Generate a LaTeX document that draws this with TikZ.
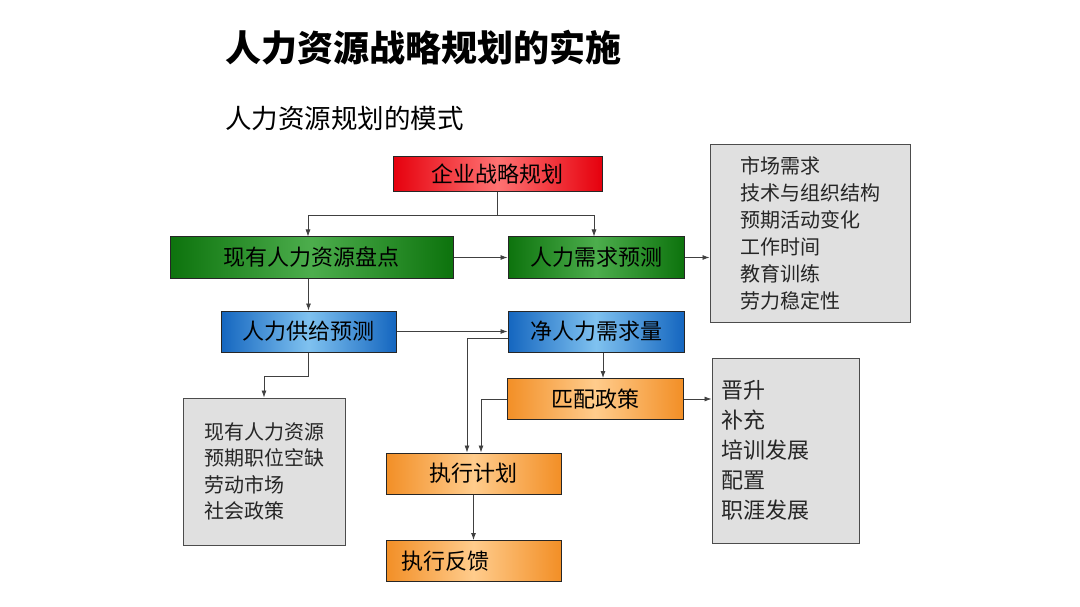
\documentclass[tikz,border=0pt]{standalone}
\usepackage{fontspec}
\setmainfont{Noto Sans CJK SC}
\usetikzlibrary{arrows.meta}

\newlength{\du}
\setlength{\du}{1pt}

\definecolor{redout}{rgb}{0.900000, 0.000000, 0.050000}
\definecolor{redin}{rgb}{1.000000, 0.450000, 0.450000}
\definecolor{greenout}{rgb}{0.050000, 0.450000, 0.050000}
\definecolor{greenin}{rgb}{0.300000, 0.680000, 0.300000}
\definecolor{blueout}{rgb}{0.080000, 0.400000, 0.750000}
\definecolor{bluein}{rgb}{0.500000, 0.760000, 0.940000}
\definecolor{orangeout}{rgb}{0.950000, 0.560000, 0.150000}
\definecolor{orangein}{rgb}{1.000000, 0.800000, 0.550000}
\definecolor{greyfill}{rgb}{0.880000, 0.880000, 0.880000}
\definecolor{linecolor}{rgb}{0.250000, 0.250000, 0.250000}

\tikzset{
  stepbox/.style={draw=black!85, line width=1\du, minimum height=41\du, inner sep=0pt,
    font=\fontsize{22}{26}\selectfont},
  redbox/.style={stepbox, minimum height=35\du, left color=redout, right color=redout, middle color=redin},
  greenbox/.style={stepbox, left color=greenout, right color=greenout, middle color=greenin},
  bluebox/.style={stepbox, left color=blueout, right color=blueout, middle color=bluein},
  orangebox/.style={stepbox, left color=orangeout, right color=orangeout, middle color=orangein},
  listbox/.style={draw=black!70, line width=1\du, fill=greyfill, align=left, inner ysep=0pt,
    text=black!85},
  link/.style={draw=linecolor, line width=0.8\du, -{Latex[length=7pt,width=5pt]}}
}

\begin{document}
\begin{tikzpicture}
\pgftransformxscale{1.000000}
\pgftransformyscale{-1.000000}
\useasboundingbox (0\du,0\du) rectangle (1080\du,607\du);
\fill[white] (0\du,0\du) rectangle (1080\du,607\du);

% titles
\node[anchor=west, inner sep=0pt, font=\fontsize{36}{42}\selectfont\bfseries] (title) at (225\du,48\du){人力资源战略规划的实施};
\node[anchor=west, inner sep=0pt, font=\fontsize{26.5}{30}\selectfont] (subtitle) at (225\du,118\du){人力资源规划的模式};

% flow boxes
\node[redbox, minimum width=209\du] (plan) at (497.5\du,174.5\du){企业战略规划};
\node[greenbox, minimum width=283\du] (stock) at (311.5\du,257.5\du){现有人力资源盘点};
\node[greenbox, minimum width=176\du] (demand) at (596\du,257.5\du){人力需求预测};
\node[bluebox, minimum width=175\du] (supply) at (308.5\du,331.5\du){人力供给预测};
\node[bluebox, minimum width=176\du] (net) at (596\du,331.5\du){净人力需求量};
\node[orangebox, minimum width=176\du] (match) at (595\du,399\du){匹配政策};
\node[orangebox, minimum width=175\du] (execplan) at (473.5\du,473.5\du){执行计划};
\node[orangebox, text width=145\du, inner xsep=15\du, align=left] (feedback) at (473.5\du,561\du){执行反馈};

% lists
\node[listbox, text width=140\du, inner xsep=30\du, minimum height=177\du, font=\fontsize{20}{27}\selectfont] (factors) at (810\du,233.5\du){市场需求\\技术与组织结构\\预期活动变化\\工作时间\\教育训练\\劳力稳定性};
\node[listbox, text width=120\du, inner xsep=21\du, minimum height=147\du, font=\fontsize{20}{26.3}\selectfont] (sources) at (264\du,471.5\du){现有人力资源\\预期职位空缺\\劳动市场\\社会政策};
\node[listbox, text width=129\du, inner xsep=9\du, minimum height=185\du, font=\fontsize{22}{30}\selectfont] (policies) at (785.5\du,450.5\du){晋升\\补充\\培训发展\\配置\\职涯发展};

% connectors
\draw[link] (plan.south) -- ++(0\du,23\du) -| ([xshift=-3.5\du]stock.north);
\draw[link] (plan.south) -- ++(0\du,23\du) -| ([xshift=-2\du]demand.north);
\draw[link] (stock.east) -- (demand.west);
\draw[link] (demand.east) -- (demand.east -| factors.west);
\draw[link] (stock.south -| supply.north) -- (supply.north);
\draw[link] (supply.east) -- (net.west);
\draw[link] (supply.south) -- ++(0\du,23.5\du) -| (sources.north);
\draw[link] ([yshift=7\du]net.west) -| ([xshift=-6.5\du]execplan.north);
\draw[link] ([xshift=7\du]net.south) -- ([xshift=7\du]net.south |- match.north);
\draw[link] (match.west) -| ([xshift=7.5\du]execplan.north);
\draw[link] (match.east) -- (match.east -| policies.west);
\draw[link] (execplan.south) -- (feedback.north);
\end{tikzpicture}
\end{document}
